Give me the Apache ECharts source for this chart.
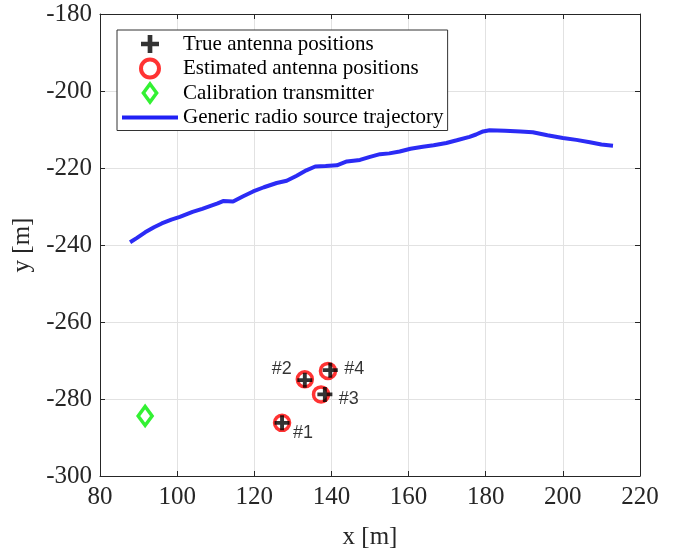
<!DOCTYPE html>
<html>
<head>
<meta charset="utf-8">
<script src="https://cdn.jsdelivr.net/npm/echarts@6/dist/echarts.min.js"></script>
<style>html,body{margin:0;padding:0;background:#fff;}#c{width:675px;height:550px;}</style>
</head>
<body>
<div id="c"></div>
<script>
// ---- data ----
var xTicks = [80, 100, 120, 140, 160, 180, 200, 220];
var yTicks = [-300, -280, -260, -240, -220, -200, -180];
var antennaNames = ['#1', '#2', '#3', '#4'];
var trueAntennaX = [127.2, 133.1, 138.3, 139.7];
var trueAntennaY = [-286.2, -275.1, -278.8, -272.5];
var estAntennaX = [127.2, 133.1, 137.3, 139.1];
var estAntennaY = [-286.2, -274.9, -278.8, -272.7];
var calibX = [91.7];
var calibY = [-284.4];
var trajX = [87.8,89.5,91.7,94,96,98.5,100.7,104,106.5,108.5,110.5,111.9,114.5,117,119.7,122.5,125.8,128.4,131,133.5,135.8,138.5,141.4,144,147.4,150,152.6,155,157.7,160.5,163.7,166.5,169.8,172.5,175.8,177.5,179.3,181,185,189,192.2,196,200,203.5,207,210,213];
var trajY = [-239.3,-238.2,-236.7,-235.4,-234.4,-233.4,-232.7,-231.4,-230.6,-229.9,-229.2,-228.6,-228.7,-227.4,-226.1,-225,-223.9,-223.3,-222,-220.6,-219.6,-219.5,-219.3,-218.3,-217.9,-217.1,-216.4,-216.2,-215.7,-215,-214.5,-214.1,-213.5,-212.8,-211.9,-211.3,-210.5,-210.2,-210.3,-210.5,-210.7,-211.5,-212.2,-212.7,-213.3,-213.9,-214.2];
var seriesNames = ['True antenna positions', 'Estimated antenna positions', 'Calibration transmitter', 'Generic radio source trajectory'];

function zip(a, b) { return a.map(function (v, i) { return [v, b[i]]; }); }

var labelPos = [[21, 10], [-23, -11], [24, 5], [24, -1]];

var chart = echarts.init(document.getElementById('c'));
var serif = 'Liberation Serif';
var tickColor = '#262626';
function axisCommon(show, margin) {
  return {
    axisLine: { show: true, onZero: false, lineStyle: { color: tickColor, width: 1 } },
    axisTick: { show: true, inside: true, length: 5, lineStyle: { color: tickColor } },
    axisLabel: { show: show, color: tickColor, fontFamily: serif, fontSize: 25, margin: margin || 8 },
    splitLine: { show: show, lineStyle: { color: '#e2e2e2', width: 1 } }
  };
}
var plusPath = 'path://M-1.3,-5H1.3V-1.3H5V1.3H1.3V5H-1.3V1.3H-5V-1.3H-1.3Z';
var diamondPath = 'path://M0,-9.5L7,0L0,9.5L-7,0Z';
var linePath = 'path://M0,0H56V4H0Z';

var option = {
  animation: false,
  backgroundColor: '#fff',
  grid: { left: 100, right: 35, top: 14, bottom: 74, containLabel: false, outerBoundsMode: 'none' },
  legend: {
    data: [
      { name: seriesNames[0], icon: plusPath },
      { name: seriesNames[1], icon: 'circle', itemStyle: { color: 'rgba(0,0,0,0)', borderColor: '#ff0000', borderWidth: 4 } },
      { name: seriesNames[2], icon: diamondPath, itemStyle: { color: 'rgba(0,0,0,0)', borderColor: '#00ee00', borderWidth: 3.5 } },
      { name: seriesNames[3], icon: linePath, itemStyle: { color: '#2020f5' } }
    ],
    orient: 'vertical',
    left: 117, top: 30,
    backgroundColor: '#fff',
    borderColor: '#333', borderWidth: 1, borderRadius: 0,
    padding: [2, 4, 1, 5],
    itemWidth: 56, itemHeight: 18, itemGap: 0.5,
    textStyle: { fontFamily: serif, fontSize: 21, lineHeight: 24, color: '#000' }
  },
  xAxis: [
    Object.assign({ type: 'value', min: 80, max: 220, interval: 20, name: 'x [m]', nameLocation: 'middle', nameGap: 49,
      nameTextStyle: { fontFamily: serif, fontSize: 25, color: tickColor } }, axisCommon(true, 9)),
    Object.assign({ type: 'value', min: 80, max: 220, interval: 20, position: 'top' }, axisCommon(false))
  ],
  yAxis: [
    Object.assign({ type: 'value', min: -300, max: -180, interval: 20, name: 'y [m]', nameLocation: 'middle', nameGap: 52,
      nameTextStyle: { fontFamily: serif, fontSize: 25, color: tickColor } }, axisCommon(true, 8)),
    Object.assign({ type: 'value', min: -300, max: -180, interval: 20, position: 'right' }, axisCommon(false))
  ],
  series: [
    {
      name: seriesNames[3], type: 'line', data: zip(trajX, trajY), symbol: 'none', smooth: false,
      lineStyle: { color: '#2b2bf5', width: 4 }, itemStyle: { color: '#2b2bf5' }, z: 2
    },
    {
      name: seriesNames[2], type: 'scatter', data: zip(calibX, calibY), symbol: 'diamond', symbolSize: [14, 19],
      itemStyle: { color: 'rgba(0,0,0,0)', borderColor: '#00ee00', borderWidth: 3.5 }, z: 3
    },
    {
      name: seriesNames[1], type: 'scatter', data: zip(estAntennaX, estAntennaY), symbol: 'circle', symbolSize: 15,
      itemStyle: { color: 'rgba(0,0,0,0)', borderColor: '#ff0000', borderWidth: 3.5 }, z: 4
    },
    {
      name: seriesNames[0], type: 'scatter', symbol: plusPath, symbolSize: 15,
      itemStyle: { color: '#000' }, z: 5,
      data: zip(trueAntennaX, trueAntennaY).map(function (p, i) {
        return {
          value: p,
          label: { show: true, formatter: antennaNames[i], position: 'inside', offset: labelPos[i],
            fontFamily: 'Liberation Sans', fontSize: 18, color: '#000' }
        };
      })
    }
  ]
};
chart.setOption(option);
</script>
</body>
</html>
